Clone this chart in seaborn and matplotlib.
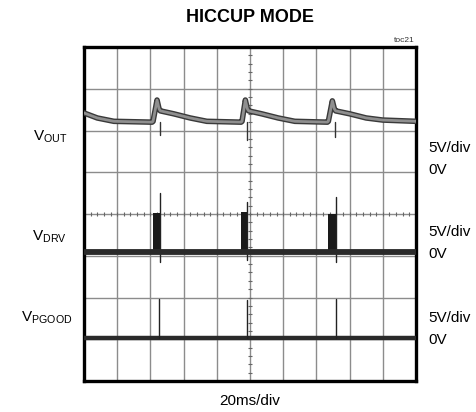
import numpy as np
import pandas as pd
import matplotlib
matplotlib.use("Agg")
import matplotlib.pyplot as plt
import seaborn as sns

# ---------------- data (divisions: x 0..10, y 0..8) ----------------
vout_t = [0.00, 0.40, 0.90, 2.05, 2.08, 2.20, 2.26, 2.30, 2.70, 3.20, 3.70,
          4.73, 4.76, 4.86, 4.92, 4.96, 5.35, 5.85, 6.35,
          7.33, 7.36, 7.48, 7.54, 7.58, 8.00, 8.50, 9.00, 10.00]
vout_v = [6.42, 6.30, 6.22, 6.20, 6.22, 6.73, 6.52, 6.47, 6.40, 6.30, 6.22,
          6.20, 6.22, 6.73, 6.52, 6.47, 6.40, 6.30, 6.22,
          6.20, 6.22, 6.71, 6.52, 6.47, 6.40, 6.30, 6.25, 6.22]
vout_dip_t = [2.29, 4.90, 7.57]
vout_dip_v = [5.89, 5.77, 5.84]
vout_base = 6.20

drv_base = 3.08
drv_pulse_start = [2.08, 4.73, 7.35]
drv_pulse_end = [2.29, 4.94, 7.59]
drv_pulse_top = [4.03, 4.05, 4.00]
drv_spike_t = [2.30, 4.90, 7.59]
drv_spike_v = [4.50, 4.29, 4.40]
drv_dip_v = [2.85, 2.90, 2.85]

pg_base = 1.02
pg_spike_t = [2.26, 4.91, 7.59]
pg_spike_v = [1.96, 1.94, 1.96]

drv_t = [0.0] + [v for s, e in zip(drv_pulse_start, drv_pulse_end) for v in (s, e)] + [10.0]
drv_v = [drv_base] * len(drv_t)

# ---------------- style ----------------
sns.set_theme(style="white")
FONT = ["Liberation Sans Narrow", "Liberation Sans", "DejaVu Sans"]
plt.rcParams["font.family"] = FONT
plt.rcParams["text.color"] = "black"
plt.rcParams["mathtext.fontset"] = "custom"
plt.rcParams["mathtext.rm"] = "Liberation Sans"
plt.rcParams["mathtext.it"] = "Liberation Sans"

fig = plt.figure(figsize=(4.77, 4.12), dpi=100)
ax = fig.add_axes([84 / 477, 1 - 381 / 412, 332 / 477, 334 / 412])
ax.set_xlim(0, 10)
ax.set_ylim(0, 8)

# grid
for gx in range(1, 10):
    ax.axvline(gx, color="#8c8c8c", lw=1.0, zorder=1)
for gy in range(1, 8):
    ax.axhline(gy, color="#8c8c8c", lw=1.0, zorder=1)
# center minor ticks
mt = np.arange(0, 10.01, 0.2)
ax.plot(mt, [4] * len(mt), ls="none", marker="|", ms=2.5, color="#666666", mew=0.8, zorder=1)
mty = np.arange(0, 8.01, 0.2)
ax.plot([5] * len(mty), mty, ls="none", marker="_", ms=2.5, color="#666666", mew=0.8, zorder=1)

# VOUT trace
df_out = pd.DataFrame({"t": vout_t, "v": vout_v})
sns.lineplot(data=df_out, x="t", y="v", ax=ax, color="#3a3a3a", lw=4.0, sort=False, zorder=3)
sns.lineplot(data=df_out, x="t", y="v", ax=ax, color="#8f8f8f", lw=2.0, sort=False, zorder=4)
for t, v in zip(vout_dip_t, vout_dip_v):
    ax.plot([t, t], [vout_base, v], color="#333333", lw=1.0, zorder=3)

# VDRV trace
for s, e, top in zip(drv_pulse_start, drv_pulse_end, drv_pulse_top):
    ax.fill_between([s, e], [drv_base, drv_base], [top, top], color="#1a1a1a", lw=0, zorder=3)
for t, v, d in zip(drv_spike_t, drv_spike_v, drv_dip_v):
    ax.plot([t, t], [d, v], color="#222222", lw=1.0, zorder=3)
df_drv = pd.DataFrame({"t": drv_t, "v": drv_v})
sns.lineplot(data=df_drv, x="t", y="v", ax=ax, color="#2a2a2a", lw=4.2, sort=False, zorder=3)

# VPGOOD trace
df_pg = pd.DataFrame({"t": [0.0, 10.0], "v": [pg_base, pg_base]})
sns.lineplot(data=df_pg, x="t", y="v", ax=ax, color="#2a2a2a", lw=3.2, zorder=3)
for t, v in zip(pg_spike_t, pg_spike_v):
    ax.plot([t, t], [pg_base, v], color="#222222", lw=1.0, zorder=3)

ax.set_xticks([])
ax.set_yticks([])
ax.set_xlabel("")
ax.set_ylabel("")
for sp in ax.spines.values():
    sp.set_visible(True)
    sp.set_color("black")
    sp.set_linewidth(2.4)

# texts (figure pixel coords)
def fp(x, y):
    return x / 477, 1 - y / 412

fig.text(*fp(250, 18), "HICCUP MODE", ha="center", va="center", fontsize=13,
         fontweight="bold", color="black")
fig.text(*fp(415, 40), "toc21", ha="right", va="center", fontsize=6, color="#333333")
fig.text(*fp(33, 137), r"V$_{\mathrm{OUT}}$", ha="left", va="center", fontsize=11, color="black")
fig.text(*fp(32, 237), r"V$_{\mathrm{DRV}}$", ha="left", va="center", fontsize=11, color="black")
fig.text(*fp(21, 318), r"V$_{\mathrm{PGOOD}}$", ha="left", va="center", fontsize=11, color="black")
for y1, y2 in [(148, 170), (232, 254), (318, 340)]:
    fig.text(*fp(428, y1), "5V/div", ha="left", va="center", fontsize=11, color="black")
    fig.text(*fp(428, y2), "0V", ha="left", va="center", fontsize=11, color="black")
fig.text(*fp(250, 401), "20ms/div", ha="center", va="center", fontsize=11, color="black")

fig.savefig("out.png", dpi=100)
